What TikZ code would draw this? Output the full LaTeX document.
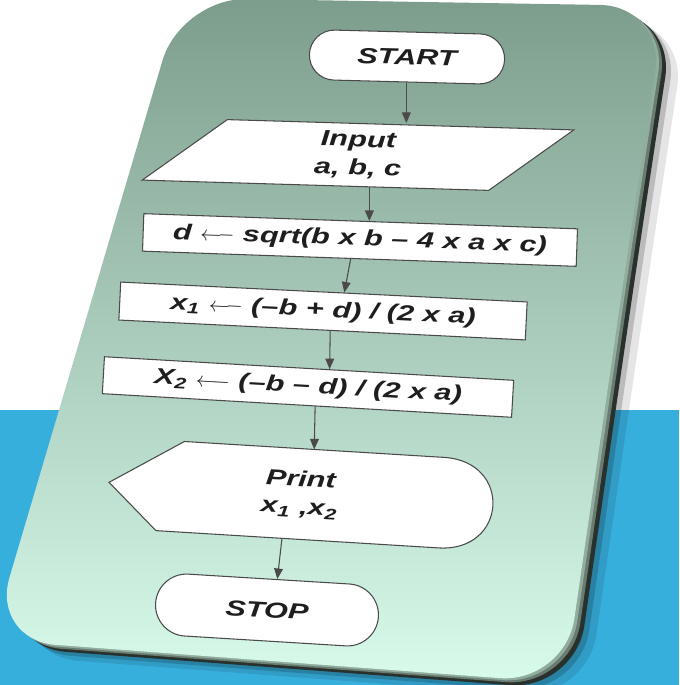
\documentclass[tikz,border=0pt]{standalone}
\usepackage{fontspec}
\setmainfont{Liberation Sans}[FakeStretch=1.4]
\usetikzlibrary{shapes.geometric,shapes.misc,arrows.meta,calc}
\definecolor{bandblue}{HTML}{37AFDD}
\definecolor{cardtop}{HTML}{7D9D8C}
\definecolor{cardmid}{HTML}{AED2BF}
\definecolor{cardbot}{HTML}{D8FBEC}
\definecolor{cardedge}{HTML}{28312C}
\definecolor{cardrim}{HTML}{6A7C72}
\definecolor{ink}{HTML}{1E1E1E}
\definecolor{rule}{HTML}{4A4A4A}

\begin{document}
\begin{tikzpicture}[x=0.02cm,y=-0.02cm,
    lbl/.style={font=\fontsize{12.5}{16}\selectfont\bfseries\itshape,text=ink,align=center},
    termbox/.style={lbl,rounded rectangle,draw=rule,fill=white,line width=0.6pt},
    iobox/.style={lbl,trapezium,trapezium left angle=35,trapezium right angle=145,
      trapezium stretches body=true,draw=rule,fill=white,line width=0.6pt},
    procbox/.style={lbl,rectangle,draw=rule,fill=white,line width=0.6pt,inner sep=0pt},
    arr/.style={draw=rule,line width=0.6pt,-{Triangle[length=6pt,width=5pt]}}]
  \def\cardpath{(191,5) -- (675,13) -- (636,270) -- (575,690) -- (1,647) -- cycle}
  \useasboundingbox (0,0) rectangle (679,685);
  \fill[white] (0,0) rectangle (679,410);
  \fill[bandblue] (0,410) rectangle (679,685);

  \fill[black,opacity=.10,rounded corners=1.3cm,shift={(12,9)}] \cardpath;
  \fill[black,opacity=.18,rounded corners=1.3cm,shift={(5,4)}] \cardpath;
  \fill[cardedge,rounded corners=1.3cm] \cardpath;
  \fill[cardrim,rounded corners=1.3cm,shift={(-4,-3)}] \cardpath;
  \fill[cardtop!60!cardbot,opacity=.7,rounded corners=1.3cm,shift={(-7,-5)}] \cardpath;
  \shade[top color=cardtop,middle color=cardmid,bottom color=cardbot,
    rounded corners=1.3cm,shift={(-10,-7)}] \cardpath;

  \node[termbox,minimum width=4.14cm,minimum height=1cm,rotate=-1.5] (start) at (407,57) {START};
  \node[iobox,minimum width=8.6cm,minimum height=1.26cm,rotate=-1.7] (input) at (358,155) {Input\\a, b, c};
  \node[procbox,minimum width=8.68cm,minimum height=0.75cm,rotate=-2] (d) at (360,240)
    {d $\longleftarrow$ sqrt(b x b -- 4 x a x c)};
  \node[procbox,minimum width=8.14cm,minimum height=0.76cm,rotate=-2.8] (xa) at (323,311)
    {x\textsubscript{1} $\longleftarrow$ (--b + d) / (2 x a)};
  \node[procbox,minimum width=8.2cm,minimum height=0.74cm,rotate=-3.3] (xb) at (308,387)
    {X\textsubscript{2} $\longleftarrow$ (--b -- d) / (2 x a)};
  \node[minimum width=7.64cm,minimum height=1.8cm,inner sep=0pt,rotate=-3.5] (prt) at (300,494) {};
  \draw[draw=rule,fill=white,line width=0.6pt] (prt.west)
    -- ($(prt.north west)!0.19!(prt.north east)$)
    -- ($(prt.north west)!0.87!(prt.north east)$)
    .. controls ($(prt.north west)!1.05!(prt.north east)$) and ($(prt.south west)!1.05!(prt.south east)$)
    .. ($(prt.south west)!0.87!(prt.south east)$)
    -- ($(prt.south west)!0.13!(prt.south east)$) -- cycle;
  \node[lbl,rotate=-3.5] (prttxt) at (prt.center) {Print\\x\textsubscript{1} ,x\textsubscript{2}};
  \node[termbox,minimum width=4.7cm,minimum height=1.24cm,rotate=-3.5] (stop) at (267,610) {STOP};

  \coordinate (din) at ($(d.north west)!0.52!(d.north east)$);
  \draw[arr] (start.south) -- (start.south |- input.north);
  \draw[arr] (input.south -| din) -- (din);
  \draw[arr] ($(d.south west)!0.48!(d.south east)$) -- ($(xa.north west)!0.55!(xa.north east)$);
  \draw[arr] ($(xa.south west)!0.52!(xa.south east)$) -- ($(xb.north west)!0.55!(xb.north east)$);
  \draw[arr] ($(xb.south west)!0.52!(xb.south east)$) -- ($(prt.north west)!0.53!(prt.north east)$);
  \draw[arr] ($(prt.south west)!0.46!(prt.south east)$) -- (stop.75);
\end{tikzpicture}
\end{document}
